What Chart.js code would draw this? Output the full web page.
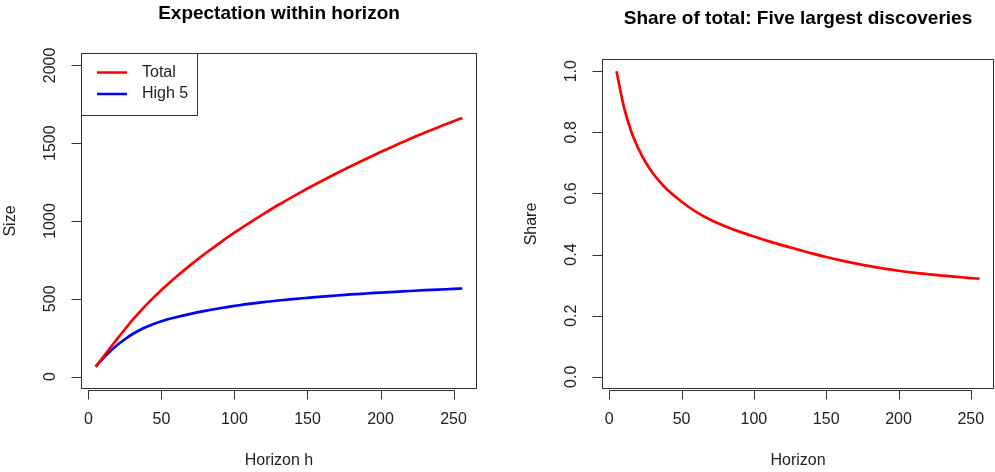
<!DOCTYPE html>
<html lang="en">
<head>
  <meta charset="UTF-8">
  <title>Expectation within horizon</title>
  <script src="https://cdn.jsdelivr.net/npm/chart.js"></script>
  <style>
    body { margin: 0; background: #fff; }
    #wrap { position: relative; width: 995px; height: 472px; }
    canvas { position: absolute; top: 0; }
    #left { left: 0; }
    #right { left: 497px; }
  </style>
</head>
<body>
<div id="wrap">
  <canvas id="left" width="497" height="472"></canvas>
  <canvas id="right" width="498" height="472"></canvas>
</div>

<script>
  // values
  const horizon    = [5, 10, 15, 20, 25, 30, 35, 40, 50, 60, 70, 80, 90, 100, 110, 120, 130, 140, 150, 160, 170, 180, 190, 200, 210, 220, 230, 240, 250, 256];
  const totalSize  = [64, 124, 185, 245, 304, 361, 414, 464, 556, 640, 718, 791, 860, 925, 987, 1046, 1103, 1157, 1209, 1259, 1307, 1354, 1399, 1443, 1486, 1527, 1567, 1605, 1641, 1662];
  const high5Size  = [64, 116, 162, 204, 240, 272, 298, 320, 355, 381, 403, 422, 439, 454, 467, 479, 489, 498, 506, 514, 521, 528, 534, 540, 545, 550, 555, 559, 564, 566];
  const shareHigh5 = [1.0, 0.885, 0.805, 0.748, 0.703, 0.667, 0.638, 0.613, 0.573, 0.540, 0.514, 0.493, 0.475, 0.459, 0.444, 0.430, 0.417, 0.404, 0.392, 0.381, 0.371, 0.362, 0.354, 0.347, 0.341, 0.336, 0.331, 0.327, 0.323, 0.321];

  const xTicks = [0, 50, 100, 150, 200, 250];
  const sizeTicks = [0, 500, 1000, 1500, 2000];
  const shareTicks = [0, 0.2, 0.4, 0.6, 0.8, 1.0];

  const FONT = '"Liberation Sans", Arial, sans-serif';

  function pts(ys) {
    return horizon.map((h, i) => ({ x: h, y: ys[i] }));
  }

  // draws the R-style frame: box, ticks, labels, titles, legend
  const rFrame = {
    id: 'rFrame',
    afterDraw(chart, args, o) {
      const ctx = chart.ctx;
      const a = chart.chartArea;
      const xs = chart.scales.x, ys = chart.scales.y;
      ctx.save();
      ctx.strokeStyle = '#333';
      ctx.lineWidth = 1;
      ctx.strokeRect(Math.round(a.left) + 0.5, Math.round(a.top) + 0.5,
        Math.round(a.right - a.left) - 1, Math.round(a.bottom - a.top) - 1);

      ctx.fillStyle = '#222';
      ctx.font = '16px ' + FONT;
      ctx.textAlign = 'center';
      ctx.textBaseline = 'middle';

      // x axis
      const bottom = Math.round(a.bottom) + 0.5;
      ctx.beginPath();
      const x0 = Math.round(xs.getPixelForValue(o.xTicks[0])) + 0.5;
      const x1 = Math.round(xs.getPixelForValue(o.xTicks[o.xTicks.length - 1])) + 0.5;
      ctx.moveTo(x0, bottom + 1); ctx.lineTo(x1, bottom + 1);
      o.xTicks.forEach(t => {
        const px = Math.round(xs.getPixelForValue(t)) + 0.5;
        ctx.moveTo(px, bottom + 1); ctx.lineTo(px, bottom + 10);
      });
      ctx.stroke();
      o.xTicks.forEach(t => {
        ctx.fillText(String(t), xs.getPixelForValue(t), a.bottom + 31);
      });

      // y axis
      const left = Math.round(a.left) + 0.5;
      ctx.beginPath();
      o.yTicks.forEach(t => {
        const py = Math.round(ys.getPixelForValue(t)) + 0.5;
        ctx.moveTo(left, py); ctx.lineTo(left - 10, py);
      });
      ctx.stroke();
      o.yTicks.forEach(t => {
        ctx.save();
        ctx.translate(a.left - 30, ys.getPixelForValue(t));
        ctx.rotate(-Math.PI / 2);
        ctx.fillText(o.yFmt(t), 0, 0);
        ctx.restore();
      });

      // axis titles
      ctx.fillText(o.xlab, (a.left + a.right) / 2, a.bottom + 72);
      ctx.save();
      ctx.translate(a.left - 70, (a.top + a.bottom) / 2);
      ctx.rotate(-Math.PI / 2);
      ctx.fillText(o.ylab, 0, 0);
      ctx.restore();

      // main title
      ctx.fillStyle = '#000';
      ctx.font = 'bold 19px ' + FONT;
      ctx.textBaseline = 'alphabetic';
      ctx.fillText(o.title, (a.left + a.right) / 2, a.top - o.titleGap);

      // legend
      if (o.legend) {
        ctx.strokeRect(left, Math.round(a.top) + 0.5, 116, 62);
        ctx.font = '16px ' + FONT;
        ctx.textAlign = 'left';
        ctx.textBaseline = 'middle';
        ctx.fillStyle = '#222';
        o.legend.forEach((item, i) => {
          const yy = a.top + 19.5 + i * 21.5;
          ctx.strokeStyle = item.color;
          ctx.lineWidth = 2.5;
          ctx.beginPath();
          ctx.moveTo(a.left + 16, yy); ctx.lineTo(a.left + 46, yy);
          ctx.stroke();
          ctx.fillText(item.label, a.left + 61, yy);
        });
      }
      ctx.restore();
    }
  };

  function makeChart(id, datasets, yMin, yMax, pad, frame) {
    return new Chart(document.getElementById(id), {
      type: 'line',
      data: { datasets },
      options: {
        responsive: false,
        animation: false,
        devicePixelRatio: 1,
        layout: { padding: pad },
        elements: {
          point: { radius: 0 },
          line: { borderWidth: 2.7, cubicInterpolationMode: 'monotone' }
        },
        scales: {
          x: { type: 'linear', min: -5.04, max: 266.04, display: false },
          y: { type: 'linear', min: yMin, max: yMax, display: false }
        },
        plugins: {
          legend: { display: false },
          tooltip: { enabled: false },
          rFrame: frame
        }
      },
      plugins: [rFrame]
    });
  }

  makeChart('left', [
    { label: 'Total', data: pts(totalSize), borderColor: '#ff0000' },
    { label: 'High 5', data: pts(high5Size), borderColor: '#0000ff' }
  ], -80, 2080, { left: 81, right: 20, top: 53, bottom: 83 }, {
    title: 'Expectation within horizon',
    titleGap: 34,
    xlab: 'Horizon h',
    ylab: 'Size',
    xTicks: xTicks,
    yTicks: sizeTicks,
    yFmt: t => String(t),
    legend: [{ label: 'Total', color: '#ff0000' }, { label: 'High 5', color: '#0000ff' }]
  });

  makeChart('right', [
    { label: 'Share', data: pts(shareHigh5), borderColor: '#ff0000' }
  ], -0.04, 1.04, { left: 105, right: 1, top: 59, bottom: 83 }, {
    title: 'Share of total: Five largest discoveries',
    titleGap: 35,
    xlab: 'Horizon',
    ylab: 'Share',
    xTicks: xTicks,
    yTicks: shareTicks,
    yFmt: t => t.toFixed(1),
    legend: null
  });
</script>
</body>
</html>
